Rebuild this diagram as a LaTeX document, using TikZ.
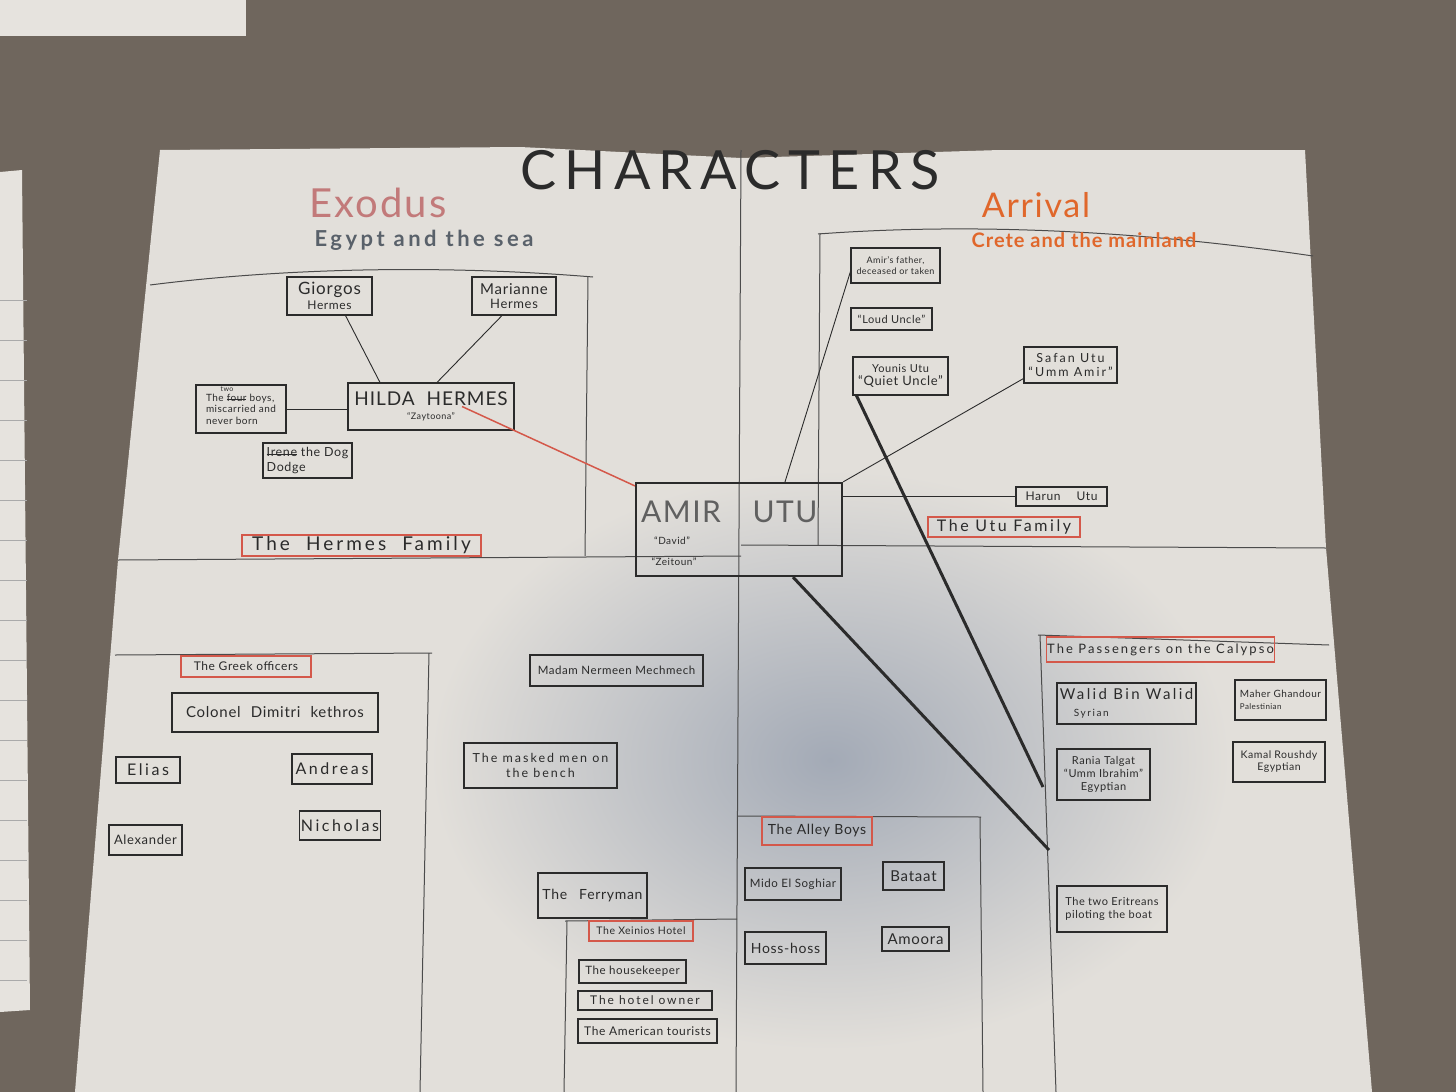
\documentclass[tikz,border=0pt]{standalone}
\usepackage{fontspec}
\setmainfont{Lato}[LetterSpace=5]
\usepackage{tikz}
\definecolor{carpet}{HTML}{6F665D}
\definecolor{sheet}{HTML}{E6E3DE}
\definecolor{paper}{HTML}{E2DFDA}
\definecolor{shadow}{HTML}{A3AAB6}
\definecolor{ink}{HTML}{2B2B2B}
\definecolor{redpen}{HTML}{D4584A}
\definecolor{exodus}{HTML}{C27A7A}
\definecolor{seagray}{HTML}{59616A}
\definecolor{arrival}{HTML}{E0672B}
\newcommand{\hw}[1]{\fontsize{#1}{\fpeval{#1*1.15}}\selectfont}
\newcommand{\wide}{\addfontfeatures{LetterSpace=16}}
\newsavebox{\strikebox}
\newcommand{\strike}[1]{\sbox{\strikebox}{#1}\rlap{\rule[0.35ex]{\wd\strikebox}{0.6pt}}\usebox{\strikebox}}

\begin{document}
\begin{tikzpicture}[
    x=1pt, y=-1pt,
    pbox/.style={draw=ink, line width=1.1pt, inner sep=1pt, align=center, text=ink},
    redbox/.style={pbox, draw=redpen},
    edge/.style={draw=ink!85, line width=1pt},
    link/.style={draw=ink, line width=0.9pt},
    heavy/.style={draw=ink, line width=3pt}
  ]
    \useasboundingbox (0,0) rectangle (1456,1092);
    \fill[carpet] (0,0) rectangle (1456,1092);
    % other sheets lying on the floor
    \fill[sheet] (0,0) rectangle (246,36);
    \fill[sheet] (0,172) -- (22,170) -- (30,1010) -- (0,1012) -- cycle;
    \foreach \y in {300,340,380,420,460,500,540,580,620,660,700,740,780,820,860,900,940,980}
      \draw[ink!40, line width=0.6pt] (0,\y) -- (27,\y);

    % the poster
    \begin{scope}
      \clip (160,150) -- (520,147) -- (741,158) -- (1000,150) -- (1305,150)
        -- (1326,548) -- (1372,1092) -- (75,1092) -- (118,560) -- cycle;
      \fill[paper] (0,0) rectangle (1456,1092);
      \shade[inner color=shadow, outer color=paper] (830,760) ellipse (400 and 290);
    \end{scope}
    \draw[edge] (741,150) -- (736,1092);
    \draw[edge] (118,560) -- (741,556);
    \draw[edge] (741,545) -- (1326,548);

    % group frames
    \draw[edge] (150,285) .. controls (300,266) and (460,266) .. (593,277);
    \draw[edge] (588,276) -- (585,556);
    \draw[edge] (818,234) .. controls (980,222) and (1150,232) .. (1313,256);
    \draw[edge] (820,233) -- (818,545);
    \draw[edge] (115,655) -- (432,653);
    \draw[edge] (429,653) -- (420,1092);
    \draw[edge] (565,921) -- (737,919);
    \draw[edge] (567,921) -- (564,1092);
    \draw[edge] (737,816) -- (981,817);
    \draw[edge] (980,817) -- (983,1092);
    \draw[edge] (1038,635) -- (1329,645);
    \draw[edge] (1040,635) -- (1056,1092);

    % headings
    \node[text=ink, font={\hw{54}\addfontfeatures{LetterSpace=15}}] (title) at (730,170) {CHARACTERS};
    \node[text=exodus, font={\hw{40}}] (exodus) at (378,203) {Exodus};
    \node[text=seagray, font={\hw{22}\bfseries\wide}] (egypt) at (424,240) {Egypt and the sea};
    \node[text=arrival, font={\hw{34}}] (arrival) at (1036,205) {Arrival};
    \node[text=arrival, font={\hw{20}\bfseries}] (crete) at (1084,240) {Crete and the mainland};

    % Hermes family
    \node[pbox, minimum width=85pt, minimum height=38pt, font={\hw{17}}] (giorgos) at (329.5,296) {Giorgos\\[-5pt]\hw{12}Hermes};
    \node[pbox, minimum width=84pt, minimum height=38pt, font={\hw{15}}] (marianne) at (514,296) {Marianne\\[-3pt]\hw{13}Hermes};
    \node[pbox, minimum width=166pt, minimum height=47pt, font={\hw{19}}] (hilda) at (431,406.5) {HILDA\hspace{12pt}HERMES\\[-8pt]\hw{9}“Zaytoona”};
    \node[pbox, minimum width=90pt, minimum height=48pt, align=left, font={\hw{10}}] (boys) at (241,409) {The \strike{four} boys,\\miscarried and\\never born};
    \node[text=ink, font={\hw{7}}] (boystwo) at (227,389) {two};
    \node[pbox, minimum width=89pt, minimum height=35pt, align=left, font={\hw{12.5}}] (irene) at (307.5,460.5) {\strike{Irene} the Dog\\Dodge};
    \node[redbox, minimum width=239pt, minimum height=21pt, font={\hw{19}\wide}] (hermesfam) at (361.5,545.5) {The\hspace{16pt}Hermes\hspace{16pt}Family};

    % Amir
    \node[draw=ink, line width=2.2pt, minimum width=206pt, minimum height=93pt] (amir) at (739,529.5) {};
    \node[text=ink!75, font={\hw{30}}] (amirname) at (681,512) {AMIR};
    \node[text=ink!75, font={\hw{30}}] (amirsur) at (785,512) {UTU};
    \node[text=ink, font={\hw{10}}] (david) at (672,541) {“David”};
    \node[text=ink, font={\hw{10}}] (zeitoun) at (674,562) {“Zeitoun”};

    % Utu family
    \node[pbox, minimum width=89pt, minimum height=35pt, font={\hw{9}}] (father) at (895.5,265.5) {Amir's father,\\deceased or taken};
    \node[pbox, minimum width=81pt, minimum height=22pt, font={\hw{11}}] (loud) at (891.5,319) {“Loud Uncle”};
    \node[pbox, minimum width=95pt, minimum height=38pt, font={\hw{11}}] (younis) at (900.5,376) {Younis Utu\\\hw{13}“Quiet Uncle”};
    \node[pbox, minimum width=93pt, minimum height=36pt, font={\hw{12.5}\wide}] (safan) at (1070.5,365) {Safan Utu\\“Umm Amir”};
    \node[pbox, minimum width=91pt, minimum height=19pt, font={\hw{12}}] (harun) at (1061.5,496.5) {Harun\hspace{16pt}Utu};
    \node[redbox, minimum width=152pt, minimum height=20pt, font={\hw{16}\wide}] (utufam) at (1004,527) {The Utu Family};

    % Greek officers
    \node[redbox, minimum width=130pt, minimum height=21pt, font={\hw{12}}] (greek) at (246,666.5) {The Greek officers};
    \node[pbox, minimum width=206pt, minimum height=39pt, font={\hw{15}}] (colonel) at (275,712.5) {Colonel\hspace{10pt}Dimitri\hspace{10pt}kethros};
    \node[pbox, minimum width=64pt, minimum height=26pt, font={\hw{16}\wide}] (elias) at (148,770) {Elias};
    \node[pbox, minimum width=80pt, minimum height=30pt, font={\hw{16}\wide}] (andreas) at (332,769) {Andreas};
    \node[pbox, minimum width=73pt, minimum height=30pt, font={\hw{13}}] (alexander) at (145.5,840) {Alexander};
    \node[pbox, minimum width=80pt, minimum height=29pt, font={\hw{16}\wide}] (nicholas) at (340,825.5) {Nicholas};

    % Egypt, the sea
    \node[pbox, minimum width=173pt, minimum height=31pt, font={\hw{11.5}}] (madam) at (616.5,670.5) {Madam Nermeen Mechmech};
    \node[pbox, minimum width=153pt, minimum height=45pt, font={\hw{12.5}\wide}] (masked) at (540.5,765.5) {The masked men on\\the bench};
    \node[pbox, minimum width=109pt, minimum height=45pt, font={\hw{14}}] (ferry) at (592.5,895.5) {The\hspace{12pt}Ferryman};
    \node[redbox, minimum width=104pt, minimum height=20pt, font={\hw{10.5}}] (xeinios) at (641,931) {The Xeinios Hotel};
    \node[pbox, minimum width=107pt, minimum height=23pt, font={\hw{11.5}}] (housekeeper) at (632.5,971.5) {The housekeeper};
    \node[pbox, minimum width=134pt, minimum height=19pt, font={\hw{12}\wide}] (owner) at (645,1000.5) {The hotel owner};
    \node[pbox, minimum width=139pt, minimum height=24pt, font={\hw{12}}] (tourists) at (647.5,1031) {The American tourists};

    % Alley boys
    \node[redbox, minimum width=110pt, minimum height=28pt, font={\hw{14}}] (alley) at (817,831) {The Alley Boys};
    \node[pbox, minimum width=96pt, minimum height=32pt, font={\hw{11.5}}] (mido) at (793,884) {Mido El Soghiar};
    \node[pbox, minimum width=61pt, minimum height=28pt, font={\hw{15}}] (bataat) at (913.5,876) {Bataat};
    \node[pbox, minimum width=81pt, minimum height=32pt, font={\hw{14}}] (hoss) at (785.5,948) {Hoss-hoss};
    \node[pbox, minimum width=67pt, minimum height=24pt, font={\hw{15}}] (amoora) at (915.5,939) {Amoora};

    % Calypso passengers
    \node[redbox, minimum width=221pt, minimum height=25pt, font={\hw{13}\wide}] (passengers) at (1160.5,649.5) {The Passengers on the Calypso};
    \node[pbox, minimum width=139pt, minimum height=41pt, align=left, font={\hw{15}\wide}] (walid) at (1126.5,703.5) {Walid Bin Walid\\\hw{10}\hspace{14pt}Syrian};
    \node[pbox, minimum width=91pt, minimum height=40pt, align=left, font={\hw{10}}] (maher) at (1280.5,700) {Maher Ghandour\\\hw{8}Palestinian};
    \node[pbox, minimum width=93pt, minimum height=51pt, font={\hw{11}}] (rania) at (1103.5,774.5) {Rania Talgat\\“Umm Ibrahim”\\Egyptian};
    \node[pbox, minimum width=92pt, minimum height=40pt, font={\hw{10.5}}] (kamal) at (1279,762) {Kamal Roushdy\\Egyptian};
    \node[pbox, minimum width=110pt, minimum height=46pt, align=left, font={\hw{11}}] (eritreans) at (1112,909) {The two Eritreans\\piloting the boat};

    % connectors
    \draw[link] ([xshift=16pt]giorgos.south) -- ([xshift=-51pt]hilda.north);
    \draw[link] ([xshift=-12pt]marianne.south) -- ([xshift=6pt]hilda.north);
    \draw[link] (boys.east) -- (boys.east -| hilda.west);
    \draw[link, draw=redpen, line width=1.5pt] ([xshift=31pt]hilda.center) -- ([yshift=-4pt]amir.north west);
    \draw[link] ([yshift=-6pt]father.west) -- ([xshift=46pt]amir.north);
    \draw[link] (amir.north east) -- ([yshift=5pt]safan.south west);
    \draw[link] (harun.west -| amir.east) -- (harun.west);
    \coordinate (calyA) at (1043,787);
    \coordinate (calyB) at (1049,850);
    \draw[heavy] ([xshift=4pt]younis.south west) -- (calyA);
    \draw[heavy] ([xshift=54pt]amir.south) -- (calyB);
  \end{tikzpicture}
\end{document}
